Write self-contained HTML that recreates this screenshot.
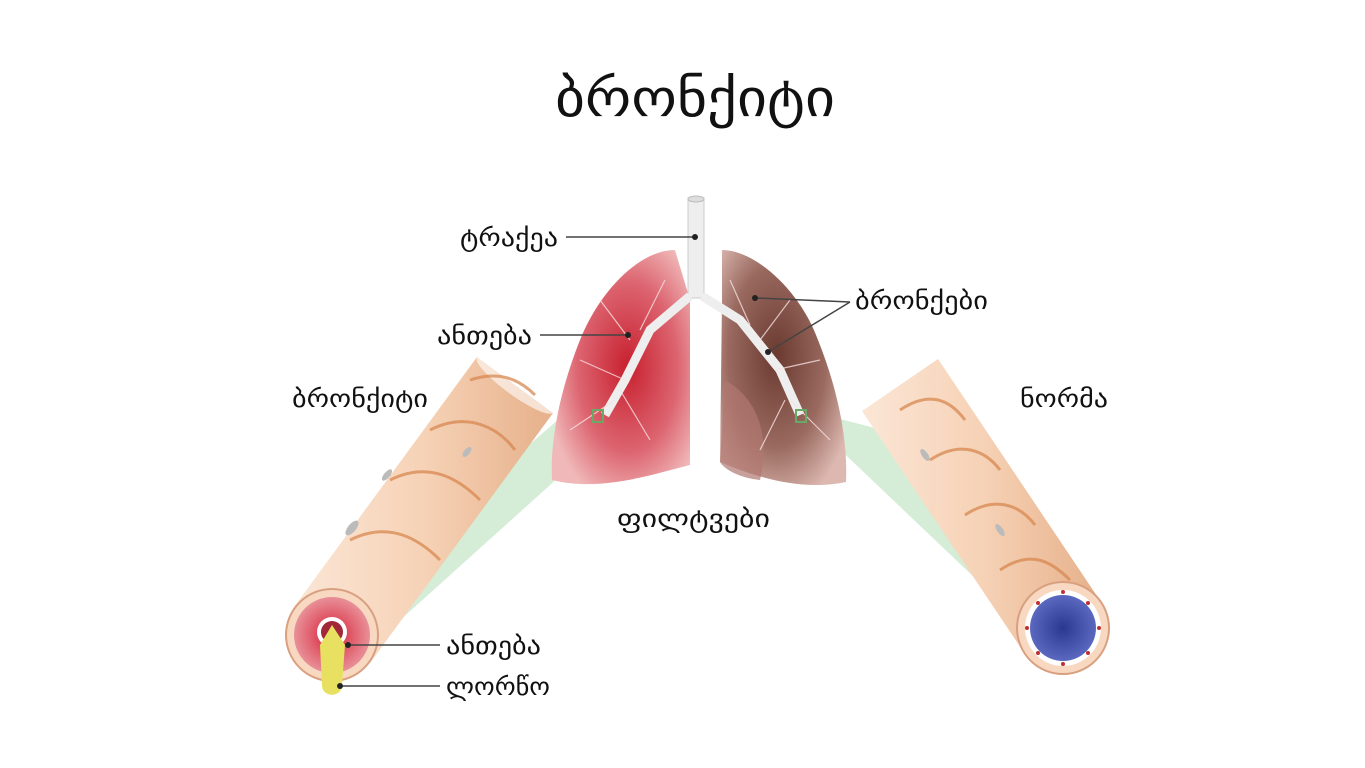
<!DOCTYPE html>
<html><head><meta charset="utf-8">
<style>
html,body{margin:0;padding:0;background:#fff;}
svg{display:block;}
text{font-family:"DejaVu Sans","Liberation Sans",sans-serif;fill:#111;}
</style></head>
<body>
<svg width="1365" height="768" viewBox="0 0 1365 768" xmlns="http://www.w3.org/2000/svg">
<defs>
<radialGradient id="lr" cx="0.55" cy="0.5" r="0.6">
<stop offset="0" stop-color="#c8202e"/><stop offset="0.6" stop-color="#dc6470"/><stop offset="1" stop-color="#f0b8b8"/>
</radialGradient>
<radialGradient id="rb" cx="0.45" cy="0.45" r="0.65">
<stop offset="0" stop-color="#6a3a30"/><stop offset="0.6" stop-color="#9a6a60"/><stop offset="1" stop-color="#dcb8b0"/>
</radialGradient>
<linearGradient id="tube" x1="0" y1="0" x2="1" y2="0">
<stop offset="0" stop-color="#fbe6d6"/><stop offset="0.5" stop-color="#f6d2b6"/><stop offset="1" stop-color="#e6b08a"/>
</linearGradient>
<radialGradient id="infl" cx="0.5" cy="0.5" r="0.5">
<stop offset="0" stop-color="#d01830"/><stop offset="0.5" stop-color="#e05868"/><stop offset="1" stop-color="#e89098"/>
</radialGradient>
<radialGradient id="blue" cx="0.5" cy="0.5" r="0.5">
<stop offset="0" stop-color="#2a3890"/><stop offset="1" stop-color="#5a68c0"/>
</radialGradient>
</defs>

<text x="555" y="116" font-size="52" textLength="280" lengthAdjust="spacingAndGlyphs">ბრონქიტი</text>

<!-- green cones -->
<polygon points="575,405 600,440 378,640 350,600" fill="#bfe2c0" opacity="0.65"/>
<polygon points="805,410 830,440 1040,640 1010,600 960,450" fill="#bfe2c0" opacity="0.65"/>

<!-- lungs -->
<path d="M675,250 C640,250 600,290 580,340 C560,390 550,440 552,480 C600,492 650,475 690,465 L690,300 Z" fill="url(#lr)"/>
<path d="M722,250 C755,250 800,290 818,340 C838,390 848,440 846,482 C800,492 750,475 720,462 L722,300 Z" fill="url(#rb)"/>
<path d="M725,380 C760,400 770,440 760,480 C740,478 725,470 720,462 Z" fill="#b07870" opacity="0.7"/>

<!-- trachea -->
<rect x="688" y="198" width="16" height="100" fill="#eee" stroke="#ccc"/>
<ellipse cx="696" cy="199" rx="8" ry="3" fill="#ddd" stroke="#bbb"/>
<path d="M690,296 L650,330 L625,380 L605,415" stroke="#eee" stroke-width="9" fill="none"/>
<path d="M702,296 L740,320 L780,370 L800,415" stroke="#eee" stroke-width="9" fill="none"/>
<g stroke="#f6e0e0" stroke-width="1.2" fill="none" opacity="0.8">
<path d="M630,340 L600,300 M625,380 L580,360 M615,400 L570,430 M640,330 L665,280 M620,390 L650,440"/>
<path d="M760,340 L790,300 M775,370 L820,360 M790,400 L830,440 M750,325 L730,280 M785,400 L760,450"/>
</g>
<rect x="593" y="410" width="10" height="12" fill="none" stroke="#6a6" stroke-width="2"/>
<rect x="796" y="410" width="10" height="12" fill="none" stroke="#6a6" stroke-width="2"/>

<!-- labels with lines -->
<text x="460" y="246" font-size="25" textLength="98" lengthAdjust="spacingAndGlyphs">ტრაქეა</text>
<line x1="566" y1="237" x2="695" y2="237" stroke="#444" stroke-width="1.5"/><circle cx="695" cy="237" r="3" fill="#222"/>
<text x="437" y="344" font-size="25" textLength="95" lengthAdjust="spacingAndGlyphs">ანთება</text>
<line x1="540" y1="335" x2="628" y2="335" stroke="#444" stroke-width="1.5"/><circle cx="628" cy="335" r="3" fill="#222"/>
<text x="855" y="309" font-size="25" textLength="133" lengthAdjust="spacingAndGlyphs">ბრონქები</text>
<line x1="755" y1="298" x2="850" y2="302" stroke="#444" stroke-width="1.5"/><circle cx="755" cy="298" r="3" fill="#222"/>
<line x1="768" y1="352" x2="850" y2="302" stroke="#444" stroke-width="1.5"/><circle cx="768" cy="352" r="3" fill="#222"/>
<text x="292" y="407" font-size="25" textLength="136" lengthAdjust="spacingAndGlyphs">ბრონქიტი</text>
<text x="1020" y="407" font-size="25" textLength="88" lengthAdjust="spacingAndGlyphs">ნორმა</text>
<text x="617" y="527" font-size="25" textLength="153" lengthAdjust="spacingAndGlyphs">ფილტვები</text>

<!-- left tube -->
<polygon points="294,607 477,357 553,413 370,663" fill="url(#tube)"/>
<ellipse cx="515" cy="385" rx="47" ry="10" transform="rotate(36 515 385)" fill="#fff" opacity="0.6"/>
<g stroke="#d88850" stroke-width="3" fill="none" opacity="0.75">
<path d="M350,540 C390,520 420,540 440,560"/>
<path d="M390,480 C430,460 460,480 480,500"/>
<path d="M430,430 C470,410 500,430 515,450"/>
<path d="M470,380 C500,370 520,380 535,395"/>
</g>
<ellipse cx="352" cy="528" rx="9" ry="4" fill="#bbb" transform="rotate(-50 352 528)"/>
<ellipse cx="387" cy="475" rx="7" ry="3" fill="#bbb" transform="rotate(-50 387 475)"/>
<ellipse cx="467" cy="452" rx="6" ry="3" fill="#bbb" transform="rotate(-50 467 452)"/>
<circle cx="332" cy="635" r="46" fill="#f8d8c0" stroke="#d8a080" stroke-width="2"/>
<circle cx="332" cy="635" r="38" fill="url(#infl)"/>
<circle cx="332" cy="632" r="15" fill="#fff"/>
<circle cx="332" cy="632" r="11" fill="#a02838"/>
<path d="M332,625 L345,645 L342,685 C342,698 322,698 322,685 L320,645 Z" fill="#e8e060"/>
<line x1="348" y1="645" x2="440" y2="645" stroke="#444" stroke-width="1.5"/><circle cx="348" cy="645" r="3" fill="#222"/>
<line x1="340" y1="686" x2="440" y2="686" stroke="#444" stroke-width="1.5"/><circle cx="340" cy="686" r="3" fill="#222"/>
<text x="446" y="654" font-size="25" textLength="95" lengthAdjust="spacingAndGlyphs">ანთება</text>
<text x="446" y="695" font-size="25" textLength="104" lengthAdjust="spacingAndGlyphs">ლორწო</text>

<!-- right tube -->
<polygon points="1101,602 938,359 862,411 1025,654" fill="url(#tube)"/>
<g stroke="#d88850" stroke-width="3" fill="none" opacity="0.75">
<path d="M900,410 C930,390 950,400 965,420"/>
<path d="M930,460 C960,440 985,450 1000,470"/>
<path d="M965,515 C995,495 1020,505 1035,525"/>
<path d="M1000,570 C1030,550 1050,560 1070,580"/>
</g>
<ellipse cx="925" cy="455" rx="7" ry="3" fill="#bbb" transform="rotate(55 925 455)"/>
<ellipse cx="1000" cy="530" rx="7" ry="3" fill="#bbb" transform="rotate(55 1000 530)"/>
<circle cx="1063" cy="628" r="46" fill="#f8d8c0" stroke="#d8a080" stroke-width="2"/>
<circle cx="1063" cy="628" r="38" fill="#fff"/>
<circle cx="1063" cy="628" r="33" fill="url(#blue)"/>
<g fill="#c03030">
<circle cx="1063" cy="592" r="2"/><circle cx="1099" cy="628" r="2"/><circle cx="1063" cy="664" r="2"/><circle cx="1027" cy="628" r="2"/>
<circle cx="1088" cy="603" r="2"/><circle cx="1088" cy="653" r="2"/><circle cx="1038" cy="653" r="2"/><circle cx="1038" cy="603" r="2"/>
</g>
</svg>
</body></html>
